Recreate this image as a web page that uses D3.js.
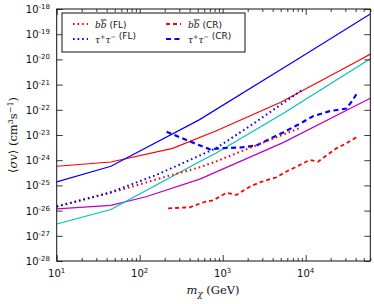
<!DOCTYPE html>
<html><head><meta charset="utf-8">
<script src="https://cdn.jsdelivr.net/npm/d3@7"></script>
<style>body{margin:0;background:#fff}svg{display:block}</style>
</head><body>
<svg id="c" width="374" height="304"></svg>
<script>
// ---- data ----
const xMajorTicks = [10, 100, 1000, 10000];
const xTickExps = ["1", "2", "3", "4"];
const yMajorTicks = [1e-18, 1e-19, 1e-20, 1e-21, 1e-22, 1e-23, 1e-24, 1e-25, 1e-26, 1e-27, 1e-28];
const yTickExps = ["-18", "-19", "-20", "-21", "-22", "-23", "-24", "-25", "-26", "-27", "-28"];

const blueSolidM = [10, 45, 520, 7700, 60000];
const blueSolidV = [1.38e-25, 5.75e-25, 3.98e-23, 9.55e-21, 6.31e-19];

const redSolidM = [10, 45, 249, 826, 5000, 44670, 60000];
const redSolidV = [5.75e-25, 8.5e-25, 2.95e-24, 1.45e-23, 2.0e-22, 9.55e-21, 1.62e-20];

const cyanSolidM = [10, 45, 530, 826, 5333, 60000];
const cyanSolidV = [2.95e-27, 1.1e-26, 8.9e-25, 1.9e-24, 7.1e-23, 1.05e-20];

const magentaSolidM = [10, 45, 119, 530, 5333, 60000];
const magentaSolidV = [1.17e-26, 1.62e-26, 3.55e-26, 1.78e-25, 5.0e-24, 2.88e-22];

const bbFLM = [10, 62, 207, 530, 826, 8472];
const bbFLV = [1.45e-26, 6.9e-26, 2.24e-25, 5.25e-25, 8.9e-25, 1.9e-23];

const tauFLM = [10, 43, 157, 826, 2118, 8810];
const tauFLV = [1.45e-26, 5.1e-26, 2.57e-25, 2.95e-24, 2.24e-23, 5.75e-22];

const bbCRM = [220, 402, 610, 766, 1112, 1466, 2118, 2793, 4436, 5861, 8472, 11170, 14060, 16940, 23440, 30900, 40740];
const bbCRV = [1.23e-26, 1.35e-26, 2.24e-26, 2.57e-26, 5.1e-26, 4.2e-26, 8.9e-26, 1.32e-25, 2.1e-25, 3.55e-25, 6.45e-25, 1.02e-24, 8.7e-25, 1.38e-24, 2.95e-24, 4.7e-24, 8.1e-24];

const tauCRM = [211, 400, 700, 1000, 1585, 2529, 5333, 8511, 12300, 19500, 30900, 36300, 42660];
const tauCRV = [1.35e-23, 5.6e-24, 2.7e-24, 3.0e-24, 3.16e-24, 3.8e-24, 1.26e-23, 2.8e-23, 5.6e-23, 8.9e-23, 1.12e-22, 2.24e-22, 5.25e-22];

// ---- layout ----
const L = 56.7, R = 370.3, T = 9, B = 261;
const svg = d3.select("#c");
const x = d3.scaleLog().domain([10, 6e4]).range([L, R]);
const y = d3.scaleLog().domain([1e-28, 1e-18]).range([B, T]);

svg.append("defs").append("clipPath").attr("id", "clip")
  .append("rect").attr("x", L).attr("y", T).attr("width", R - L).attr("height", B - T);

const series = [
  {m: magentaSolidM, v: magentaSolidV, color: "#bf00bf", w: 1.2, dash: null},
  {m: cyanSolidM, v: cyanSolidV, color: "#00bfbf", w: 1.2, dash: null},
  {m: redSolidM, v: redSolidV, color: "#ff0000", w: 1.2, dash: null},
  {m: blueSolidM, v: blueSolidV, color: "#0000ff", w: 1.2, dash: null},
  {m: bbCRM, v: bbCRV, color: "#ff0000", w: 1.8, dash: "4,3"},
  {m: tauCRM, v: tauCRV, color: "#0000ff", w: 2.2, dash: "5,3.5"},
  {m: bbFLM, v: bbFLV, color: "#ff0000", w: 2, dash: "1.6,3"},
  {m: tauFLM, v: tauFLV, color: "#0000ff", w: 2, dash: "1.6,3"}
];
const line = d3.line().x(d => x(d[0])).y(d => y(d[1]));
const g = svg.append("g").attr("clip-path", "url(#clip)");
series.forEach(s => {
  g.append("path").datum(d3.zip(s.m, s.v))
    .attr("d", line).attr("fill", "none")
    .attr("stroke", s.color).attr("stroke-width", s.w)
    .attr("stroke-dasharray", s.dash);
});

// ---- axes ----
const xMinor = x.ticks().filter(t => !xMajorTicks.includes(t));
function styleAxis(sel) {
  sel.select(".domain").remove();
  sel.selectAll("line").attr("stroke", "#222").attr("stroke-width", 0.9);
  sel.selectAll("text").remove();
}
svg.append("g").attr("transform", `translate(0,${B})`)
  .call(d3.axisBottom(x).tickValues(xMajorTicks).tickSize(-6).tickFormat("")).call(styleAxis);
svg.append("g").attr("transform", `translate(0,${B})`)
  .call(d3.axisBottom(x).tickValues(xMinor).tickSize(-3).tickFormat("")).call(styleAxis);
svg.append("g").attr("transform", `translate(0,${T})`)
  .call(d3.axisTop(x).tickValues(xMajorTicks).tickSize(-6).tickFormat("")).call(styleAxis);
svg.append("g").attr("transform", `translate(0,${T})`)
  .call(d3.axisTop(x).tickValues(xMinor).tickSize(-3).tickFormat("")).call(styleAxis);
svg.append("g").attr("transform", `translate(${L},0)`)
  .call(d3.axisLeft(y).tickValues(yMajorTicks).tickSize(-6).tickFormat("")).call(styleAxis);
svg.append("g").attr("transform", `translate(${R},0)`)
  .call(d3.axisRight(y).tickValues(yMajorTicks).tickSize(-6).tickFormat("")).call(styleAxis);

svg.append("rect").attr("x", L).attr("y", T).attr("width", R - L).attr("height", B - T)
  .attr("fill", "none").attr("stroke", "#111").attr("stroke-width", 1);

// tick labels
const sans = "DejaVu Sans, sans-serif";
xMajorTicks.forEach((t, i) => {
  const tx = svg.append("text").attr("x", x(t)).attr("y", 277)
    .attr("text-anchor", "middle").attr("font-family", sans).attr("font-size", 10).attr("fill", "#111");
  tx.append("tspan").text("10");
  tx.append("tspan").attr("dy", -4).attr("font-size", 7).text(xTickExps[i]);
});
yMajorTicks.forEach((t, i) => {
  const tx = svg.append("text").attr("x", 50).attr("y", y(t) + 4)
    .attr("text-anchor", "end").attr("font-family", sans).attr("font-size", 10).attr("fill", "#111");
  tx.append("tspan").text("10");
  tx.append("tspan").attr("dy", -4).attr("font-size", 7).text(yTickExps[i]);
});

// axis titles
const serif = "DejaVu Serif, serif";
const xl = svg.append("text").attr("x", 213).attr("y", 294).attr("text-anchor", "middle")
  .attr("font-family", serif).attr("font-size", 11.5).attr("fill", "#111");
xl.append("tspan").attr("font-style", "italic").text("m");
xl.append("tspan").attr("font-style", "italic").attr("font-size", 8.5).attr("dy", 3).text("χ");
xl.append("tspan").attr("dy", -3).text(" (GeV)");

const yl = svg.append("text").attr("transform", `translate(17,135) rotate(-90)`).attr("text-anchor", "middle")
  .attr("font-family", serif).attr("font-size", 11.5).attr("fill", "#111");
yl.append("tspan").text("⟨");
yl.append("tspan").attr("font-style", "italic").text("σv");
yl.append("tspan").text("⟩ (cm");
yl.append("tspan").attr("font-size", 8).attr("dy", -4).text("3");
yl.append("tspan").attr("dy", 4).text("s");
yl.append("tspan").attr("font-size", 8).attr("dy", -4).text("−1");
yl.append("tspan").attr("dy", 4).text(")");

// legend
const lg = svg.append("g");
lg.append("rect").attr("x", 62).attr("y", 13).attr("width", 183).attr("height", 39)
  .attr("fill", "#fff").attr("stroke", "#111").attr("stroke-width", 1);
const legendItems = [
  {cx: 73, cy: 24, color: "#ff0000", w: 2, dash: "1.6,3", lab: "bb", tag: " (FL)"},
  {cx: 73, cy: 39, color: "#0000ff", w: 2, dash: "1.6,3", lab: "tau", tag: " (FL)"},
  {cx: 166, cy: 24, color: "#ff0000", w: 1.8, dash: "4,3", lab: "bb", tag: " (CR)"},
  {cx: 166, cy: 39, color: "#0000ff", w: 2.2, dash: "5,3.5", lab: "tau", tag: " (CR)"}
];
legendItems.forEach(it => {
  lg.append("line").attr("x1", it.cx).attr("x2", it.cx + 15).attr("y1", it.cy).attr("y2", it.cy)
    .attr("stroke", it.color).attr("stroke-width", it.w).attr("stroke-dasharray", it.dash);
  const t = lg.append("text").attr("x", it.cx + 22).attr("y", it.cy + 3.5)
    .attr("font-family", serif).attr("font-size", 9).attr("fill", "#111");
  if (it.lab === "bb") {
    t.append("tspan").attr("font-style", "italic").text("b");
    t.append("tspan").attr("font-style", "italic").attr("text-decoration", "overline").text("b");
  } else {
    t.append("tspan").attr("font-style", "italic").text("τ");
    t.append("tspan").attr("font-size", 6.5).attr("dy", -3.5).text("+");
    t.append("tspan").attr("font-style", "italic").attr("dy", 3.5).text("τ");
    t.append("tspan").attr("font-size", 6.5).attr("dy", -3.5).text("−");
    t.append("tspan").attr("dy", 3.5).text("");
  }
  t.append("tspan").attr("font-family", sans).text(it.tag);
});
</script>
</body></html>
